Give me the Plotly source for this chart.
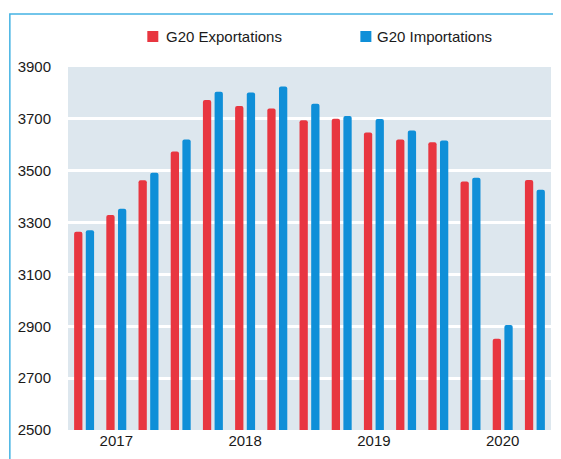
import plotly.graph_objects as go

quarters = ["2017 T1", "2017 T2", "2017 T3", "2017 T4",
            "2018 T1", "2018 T2", "2018 T3", "2018 T4",
            "2019 T1", "2019 T2", "2019 T3", "2019 T4",
            "2020 T1", "2020 T2", "2020 T3"]
exportations = [3265, 3329, 3463, 3574, 3773, 3750, 3740, 3695,
                3700, 3647, 3620, 3610, 3458, 2852, 3464]
importations = [3270, 3353, 3492, 3620, 3805, 3802, 3825, 3758,
                3711, 3699, 3655, 3617, 3473, 2905, 3427]
series_names = ["G20 Exportations", "G20 Importations"]
year_ticks = ["2017 T2", "2018 T2", "2019 T2", "2020 T2"]
year_labels = ["2017", "2018", "2019", "2020"]
y_ticks = [2500, 2700, 2900, 3100, 3300, 3500, 3700, 3900]

RED = "#e83640"
BLUE = "#0f8fd8"
FONT = "Liberation Sans, Arial, sans-serif"

fig = go.Figure()
fig.add_trace(go.Bar(x=quarters, y=exportations, name=series_names[0],
                     marker=dict(color=RED, line=dict(width=0))))
fig.add_trace(go.Bar(x=quarters, y=importations, name=series_names[1],
                     marker=dict(color=BLUE, line=dict(width=0))))

# custom legend (square + label), placed like the reference
legend_y = 1.084
legend_items = [(0.1756, 0.1983, RED, series_names[0]),
                (0.6167, 0.6364, BLUE, series_names[1])]
shapes = []
annotations = []
for sq_x, tx_x, col, label in legend_items:
    shapes.append(dict(type="rect", xref="paper", yref="paper",
                       xsizemode="pixel", ysizemode="pixel",
                       xanchor=sq_x, yanchor=legend_y,
                       x0=-5.5, x1=5.5, y0=-5.5, y1=5.5,
                       fillcolor=col, line=dict(width=0)))
    annotations.append(dict(xref="paper", yref="paper", x=tx_x, y=legend_y,
                            xanchor="left", yanchor="middle", showarrow=False,
                            text=label, font=dict(size=15, family=FONT, color="#1a1a1a")))

# light-blue frame around the chart
shapes.append(dict(type="rect", xref="paper", yref="paper",
                   x0=-0.1204, x1=1.3, y0=-0.3, y1=1.1457,
                   line=dict(color="#44b3e3", width=1.5),
                   fillcolor="rgba(0,0,0,0)", layer="below"))

fig.update_layout(
    width=553, height=451,
    margin=dict(l=59, r=10, t=59, b=23),
    paper_bgcolor="white",
    plot_bgcolor="#dde7ee",
    barmode="group",
    bargap=0.275,
    bargroupgap=0.29,
    barcornerradius=2,
    font=dict(family=FONT, size=15, color="#1a1a1a"),
    showlegend=False,
    xaxis=dict(tickmode="array", tickvals=year_ticks, ticktext=year_labels,
               showgrid=False, ticks="", zeroline=False, showline=False,
               tickfont=dict(size=15)),
    yaxis=dict(range=[2500, 3900], tickmode="array", tickvals=y_ticks,
               showgrid=True, gridcolor="white", gridwidth=2.5,
               zeroline=False, showline=False, ticks="",
               ticklabelstandoff=16, tickfont=dict(size=15)),
    shapes=shapes,
    annotations=annotations,
)

fig.write_html("out.html")
